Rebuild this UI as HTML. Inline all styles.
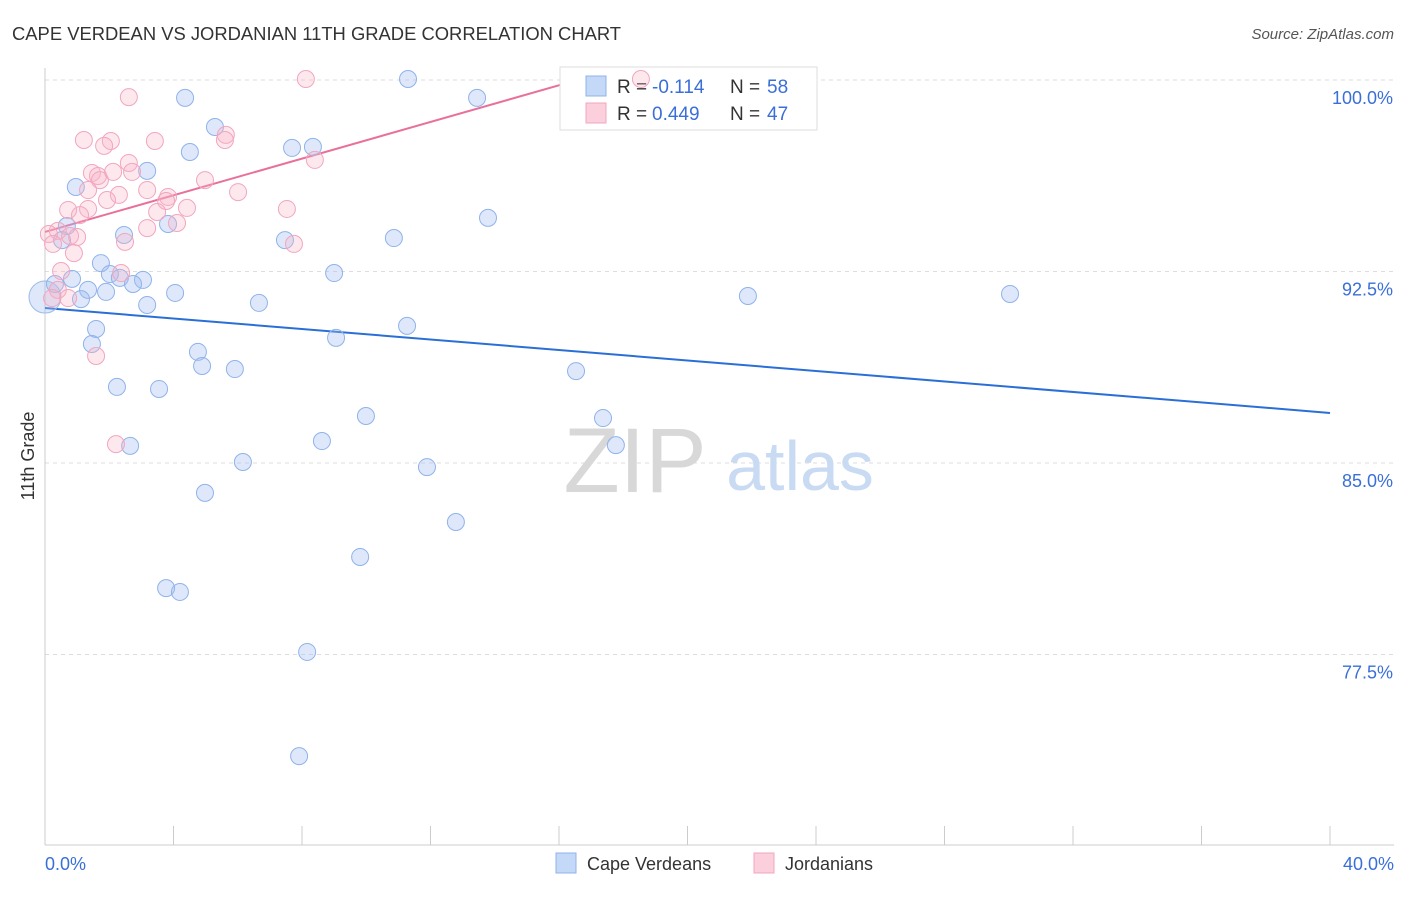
<!DOCTYPE html>
<html><head><meta charset="utf-8"><style>
body{margin:0;background:#fff;font-family:"Liberation Sans",sans-serif;}
svg text{font-family:"Liberation Sans",sans-serif;}
</style></head><body>
<svg id="chart" width="1406" height="892" xmlns="http://www.w3.org/2000/svg">
<text x="12" y="40" font-size="18.4" fill="#333">CAPE VERDEAN VS JORDANIAN 11TH GRADE CORRELATION CHART</text>
<text x="1394" y="39" font-size="15" fill="#555" text-anchor="end" font-style="italic">Source: ZipAtlas.com</text>
<g id="grid"></g>
<g id="watermark">
<text x="635" y="492" font-size="92" fill="#d8d8d8" text-anchor="middle" font-family="Liberation Serif">ZIP</text>
<text x="800" y="490" font-size="70" fill="#c9daf3" text-anchor="middle">atlas</text>
</g>
<g id="lines"></g>
<g>
<rect x="560" y="67" width="257" height="63" fill="#fff" stroke="#ddd"/>
<rect x="586" y="76" width="20" height="20" fill="#c4d8f7" stroke="#8fb3ea"/>
<rect x="586" y="103" width="20" height="20" fill="#fbcfdc" stroke="#f2a6bf"/>
<text x="617" y="93" font-size="19" fill="#333">R =</text>
<text x="652" y="93" font-size="19" fill="#3a6fd8">-0.114</text>
<text x="730" y="93" font-size="19" fill="#333">N =</text>
<text x="767" y="93" font-size="19" fill="#3a6fd8">58</text>
<text x="617" y="120" font-size="19" fill="#333">R =</text>
<text x="652" y="120" font-size="19" fill="#3a6fd8">0.449</text>
<text x="730" y="120" font-size="19" fill="#333">N =</text>
<text x="767" y="120" font-size="19" fill="#3a6fd8">47</text>
</g>
<g id="pts"></g>
<text transform="translate(34,456) rotate(-90)" font-size="18" fill="#333" text-anchor="middle">11th Grade</text>
<text x="45" y="870" font-size="18" fill="#3a6fd8">0.0%</text>
<text x="1394" y="870" font-size="18" fill="#3a6fd8" text-anchor="end">40.0%</text>
<g>
<rect x="556" y="853" width="20" height="20" fill="#c4d8f7" stroke="#8fb3ea"/>
<text x="587" y="870" font-size="18" fill="#333">Cape Verdeans</text>
<rect x="754" y="853" width="20" height="20" fill="#fbcfdc" stroke="#f2a6bf"/>
<text x="785" y="870" font-size="18" fill="#333">Jordanians</text>
</g>
</svg>
<script>
const yTicks=[100,92.5,85,77.5];
const yTickLabels=["100.0%","92.5%","85.0%","77.5%"];
const xTicks=[0,4,8,12,16,20,24,28,32,36,40];
const bluePx=[[408,79],[477,98],[185,98],[215,127],[190,152],[292,148],[313,147],[147,171],[76,187],[488,218],[168,224],[67,226],[124,235],[62,240],[285,240],[394,238],[101,263],[110,274],[72,279],[120,278],[143,280],[334,273],[55,284],[88,290],[133,284],[106,292],[175,293],[81,299],[147,305],[259,303],[748,296],[1010,294],[96,329],[407,326],[336,338],[92,344],[198,352],[202,366],[235,369],[576,371],[117,387],[159,389],[366,416],[603,418],[322,441],[130,446],[616,445],[243,462],[427,467],[205,493],[456,522],[360,557],[166,588],[180,592],[307,652],[299,756]];
const pinkPx=[[306,79],[641,79],[129,97],[84,140],[111,141],[155,141],[226,135],[225,140],[104,146],[315,160],[129,163],[92,173],[98,176],[100,180],[132,172],[113,172],[205,180],[88,190],[147,190],[119,195],[238,192],[107,200],[168,197],[166,201],[187,208],[68,210],[88,209],[157,212],[287,209],[80,215],[147,228],[177,223],[58,231],[49,234],[70,236],[77,237],[125,242],[53,244],[294,244],[74,253],[61,271],[121,273],[58,290],[52,298],[68,298],[96,356],[116,444]];
const invX=p=>(p-45)/1285*40, invY=p=>100-(p-80)/191.5*7.5;
const blueX=bluePx.map(d=>+invX(d[0]).toFixed(2)), blueY=bluePx.map(d=>+invY(d[1]).toFixed(2));
const pinkX=pinkPx.map(d=>+invX(d[0]).toFixed(2)), pinkY=pinkPx.map(d=>+invY(d[1]).toFixed(2));
const blueTrendX=[0,40], blueTrendY=[91.07,86.96];
const pinkTrendX=[0,16.8], pinkTrendY=[94.05,100.08];
const X=v=>45+v/40*1285, Y=v=>80+(100-v)/7.5*191.5;
const NS="http://www.w3.org/2000/svg";
function mk(t,a,parent){const e=document.createElementNS(NS,t);for(const k in a)e.setAttribute(k,a[k]);parent.appendChild(e);return e;}
const grid=document.getElementById('grid');
yTicks.forEach((t,i)=>{
 const l=mk('line',{x1:45,x2:1394,y1:Y(t),y2:Y(t),stroke:'#ddd','stroke-dasharray':'4,4'},grid);
 
 
 const tx=mk('text',{x:1393,y:Y(t)+24,'font-size':18,fill:'#3a6fd8','text-anchor':'end'},grid);
 tx.textContent=yTickLabels[i];
 
 
});
mk('line',{x1:45,x2:1394,y1:845,y2:845,stroke:'#ccc'},grid);
mk('line',{x1:45,x2:45,y1:68,y2:845,stroke:'#ccc'},grid);
xTicks.forEach(t=>{const l=mk('line',{x1:X(t),x2:X(t),y1:826,y2:845,stroke:'#ccc'},grid);
 
 });
const pts=document.getElementById('pts');
mk('circle',{cx:X(0),cy:Y(91.5),r:16,fill:'rgba(160,190,240,0.35)',stroke:'#9bbbe9'},pts);
blueX.forEach((x,i)=>{const c=mk('circle',{cx:X(x),cy:Y(blueY[i]),r:8.5,fill:'rgba(160,190,240,0.35)',stroke:'#8fb3ea','stroke-width':1},pts);
 
 });
pinkX.forEach((x,i)=>{const c=mk('circle',{cx:X(x),cy:Y(pinkY[i]),r:8.5,fill:'rgba(248,180,200,0.3)',stroke:'#f2a6bf','stroke-width':1},pts);
 
 });
const lines=document.getElementById('lines');
const bl=mk('line',{x1:X(blueTrendX[0]),y1:Y(blueTrendY[0]),x2:X(blueTrendX[1]),y2:Y(blueTrendY[1]),stroke:'#2a6fd6','stroke-width':2},lines);


const pl=mk('line',{x1:X(pinkTrendX[0]),y1:Y(pinkTrendY[0]),x2:X(pinkTrendX[1]),y2:Y(pinkTrendY[1]),stroke:'#e8709a','stroke-width':2},lines);


</script>
</body></html>
